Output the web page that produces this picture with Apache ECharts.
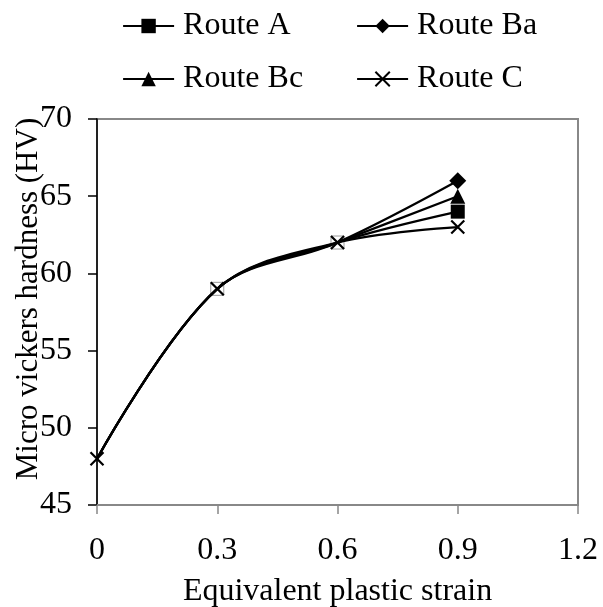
<!DOCTYPE html>
<html>
<head>
<meta charset="utf-8">
<script src="https://cdn.jsdelivr.net/npm/echarts@6/dist/echarts.min.js"></script>
<style>
html,body{margin:0;padding:0;background:#fff;}
#chart{width:603px;height:607px;}
</style>
</head>
<body>
<div id="chart"></div>
<script>
var strain = [0, 0.3, 0.6, 0.9];
var routeA = [48, 59, 62, 64];
var routeBa = [48, 59, 62, 66];
var routeBc = [48, 59, 62, 65];
var routeC = [48, 59, 62, 63];
var seriesNames = ['Route A', 'Route Ba', 'Route Bc', 'Route C'];
var xTicks = [0, 0.3, 0.6, 0.9, 1.2];
var yTicks = [45, 50, 55, 60, 65, 70];

var FONT = '"Liberation Serif", "Times New Roman", serif';
var xMark = 'path://M0,0L10,10M10,0L0,10';

function endOnly(vals) {
  return vals.map(function (v, i) {
    var item = { value: [strain[i], v] };
    if (i < vals.length - 1) { item.symbol = 'none'; }
    return item;
  });
}

function withBoxes(vals) {
  // faint square outlines visible at the shared middle points
  return vals.map(function (v, i) {
    var item = { value: [strain[i], v] };
    if (i === 1 || i === 2) {
      item.symbol = 'rect';
      item.symbolSize = 13;
      item.itemStyle = { color: 'rgba(0,0,0,0)', borderColor: '#9a9a9a', borderWidth: 1 };
    } else if (i === 0) {
      item.symbol = 'none';
    }
    return item;
  });
}

var lineStyle = { color: '#000', width: 2.2 };
var legendCommon = {
  orient: 'vertical', top: 10, padding: 0,
  itemWidth: 51, itemHeight: 18, itemGap: 21,
  lineStyle: { width: 2.2, color: '#000' },
  textStyle: { fontFamily: FONT, fontSize: 32, color: '#000', padding: [0, 0, 0, 4] }
};

var chart = echarts.init(document.getElementById('chart'), null, { renderer: 'canvas' });
chart.setOption({
  animation: false,
  backgroundColor: '#fff',
  textStyle: { fontFamily: FONT },
  legend: [
    Object.assign({ data: [seriesNames[0], seriesNames[2]], left: 122 }, legendCommon),
    Object.assign({ data: [seriesNames[1], seriesNames[3]], left: 356 }, legendCommon)
  ],
  grid: {
    left: 97, right: 25, top: 119, bottom: 102,
    containLabel: false, outerBoundsMode: 'none',
    show: true, borderColor: '#888', borderWidth: 2, backgroundColor: 'transparent'
  },
  xAxis: {
    type: 'value', min: xTicks[0], max: xTicks[xTicks.length - 1], interval: 0.3,
    name: 'Equivalent plastic strain', nameLocation: 'middle', nameGap: 71,
    nameTextStyle: { fontFamily: FONT, fontSize: 32, color: '#000' },
    axisLine: { show: true, lineStyle: { color: '#888', width: 2 } },
    axisTick: { show: true, inside: false, length: 9, lineStyle: { color: '#888', width: 1.5 } },
    axisLabel: { fontFamily: FONT, fontSize: 32, color: '#000', margin: 30 },
    splitLine: { show: false }
  },
  yAxis: {
    type: 'value', min: yTicks[0], max: yTicks[yTicks.length - 1], interval: 5,
    name: 'Micro vickers hardness (HV)', nameLocation: 'middle', nameGap: 53, nameRotate: 90,
    nameTextStyle: { fontFamily: FONT, fontSize: 31, color: '#000', padding: [0, 0, 0, 26] },
    nameMoveOverlap: false,
    axisLine: { show: true, lineStyle: { color: '#000', width: 1.5 } },
    axisTick: { show: true, inside: false, length: 9, lineStyle: { color: '#000', width: 1.5 } },
    axisLabel: { fontFamily: FONT, fontSize: 32, color: '#000', margin: 25 },
    splitLine: { show: false }
  },
  series: [
    {
      name: seriesNames[0], type: 'line', smooth: 0.35,
      data: withBoxes(routeA).map(function (it, i) { if (i === 3) { it.symbol = 'rect'; } return it; }),
      symbol: 'rect', symbolSize: 14,
      lineStyle: lineStyle, itemStyle: { color: '#000', borderColor: '#000', borderWidth: 0 }, z: 2
    },
    {
      name: seriesNames[1], type: 'line', smooth: 0.35,
      data: endOnly(routeBa), symbol: 'diamond', symbolSize: 17,
      lineStyle: lineStyle, itemStyle: { color: '#000', borderColor: '#000', borderWidth: 0 }, z: 3
    },
    {
      name: seriesNames[2], type: 'line', smooth: 0.35,
      data: endOnly(routeBc), symbol: 'triangle', symbolSize: 15,
      lineStyle: lineStyle, itemStyle: { color: '#000', borderColor: '#000', borderWidth: 0 }, z: 4
    },
    {
      name: seriesNames[3], type: 'line', smooth: 0.35,
      data: routeC.map(function (v, i) { return [strain[i], v]; }),
      symbol: xMark, symbolSize: 13,
      lineStyle: lineStyle, itemStyle: { color: 'rgba(0,0,0,0)', borderColor: '#000', borderWidth: 2.2 }, z: 5
    }
  ]
});
</script>
</body>
</html>
